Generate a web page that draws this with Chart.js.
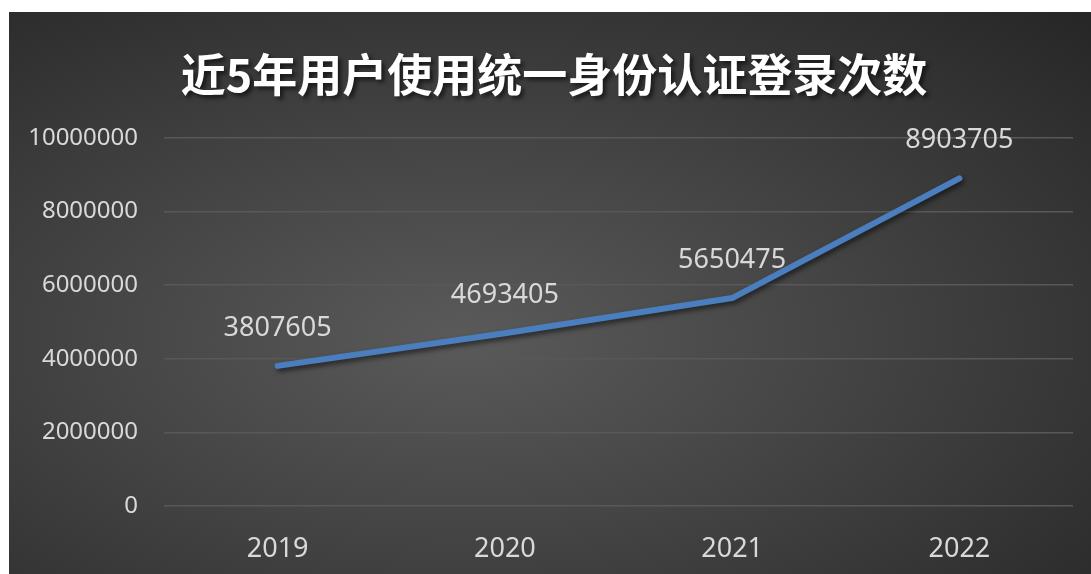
<!DOCTYPE html>
<html>
<head>
<meta charset="utf-8">
<script src="https://cdn.jsdelivr.net/npm/chart.js@4"></script>
<style>
  body { margin: 0; background: #fff; }
  #box {
    position: absolute; left: 9px; top: 12px; width: 1082px; height: 562px;
    background: radial-gradient(ellipse farthest-corner at 42% 58%, #5a5a5a 0%, #434343 45%, #262626 100%);
  }
  #title {
    position: absolute; left: 8px; right: 0; top: 28px; margin: 0;
    text-align: center; color: #fff;
    font: bold 45px "Noto Sans CJK SC", sans-serif;
    text-shadow: 3px 3px 4px rgba(0,0,0,0.6);
  }
  #wrap { position: absolute; left: 0; top: 0; width: 1082px; height: 562px; }
</style>
</head>
<body>
<div id="box">
  <div id="wrap"><canvas id="dengl"></canvas></div>
  <h1 id="title">近5年用户使用统一身份认证登录次数</h1>
</div>
<script>
const years = ['2019', '2020', '2021', '2022'];
const logins = [3807605, 4693405, 5650475, 8903705];
const yTicks = [0, 2000000, 4000000, 6000000, 8000000, 10000000];

const lineShadow = {
  id: 'lineShadow',
  beforeDatasetDraw(chart) {
    const ctx = chart.ctx;
    ctx.save();
    ctx.shadowColor = 'rgba(0,0,0,0.55)';
    ctx.shadowBlur = 5;
    ctx.shadowOffsetX = 2;
    ctx.shadowOffsetY = 3;
  },
  afterDatasetDraw(chart) {
    chart.ctx.restore();
  }
};

// etiketler noktalarin ustune
const valueLabels = {
  id: 'valueLabels',
  afterDatasetsDraw(chart) {
    const ctx = chart.ctx;
    const meta = chart.getDatasetMeta(0);
    ctx.save();
    ctx.fillStyle = '#d9d9d9';
    ctx.font = '27px "Noto Sans", sans-serif';
    ctx.textAlign = 'center';
    ctx.textBaseline = 'middle';
    meta.data.forEach((pt, i) => {
      ctx.fillText(String(logins[i]), pt.x, pt.y - 38);
    });
    ctx.restore();
  }
};

new Chart(document.getElementById('dengl'), {
  type: 'line',
  data: {
    labels: years,
    datasets: [{
      data: logins,
      borderColor: '#4a7ebf',
      borderWidth: 6,
      borderCapStyle: 'round',
      borderJoinStyle: 'round',
      pointRadius: 0,
      tension: 0
    }]
  },
  options: {
    responsive: true,
    maintainAspectRatio: false,
    animation: false,
    layout: { padding: { top: 126, right: 18, left: 0, bottom: 0 } },
    plugins: { legend: { display: false }, tooltip: { enabled: false } },
    scales: {
      x: {
        offset: true,
        grid: { display: false },
        border: { display: false },
        ticks: { color: '#d9d9d9', font: { size: 27, family: 'Noto Sans' }, padding: 19 },
        afterFit(s) { s.height = 68; }
      },
      y: {
        min: 0,
        max: 10000000,
        afterBuildTicks(s) { s.ticks = yTicks.map(v => ({ value: v })); },
        grid: { color: '#585858', lineWidth: 1.5, drawTicks: false },
        border: { display: false },
        ticks: {
          color: '#d9d9d9', font: { size: 24, family: 'Noto Sans' }, padding: 26,
          callback: v => String(v)
        },
        afterFit(s) { s.width = 155; }
      }
    }
  },
  plugins: [lineShadow, valueLabels]
});
</script>
</body>
</html>
